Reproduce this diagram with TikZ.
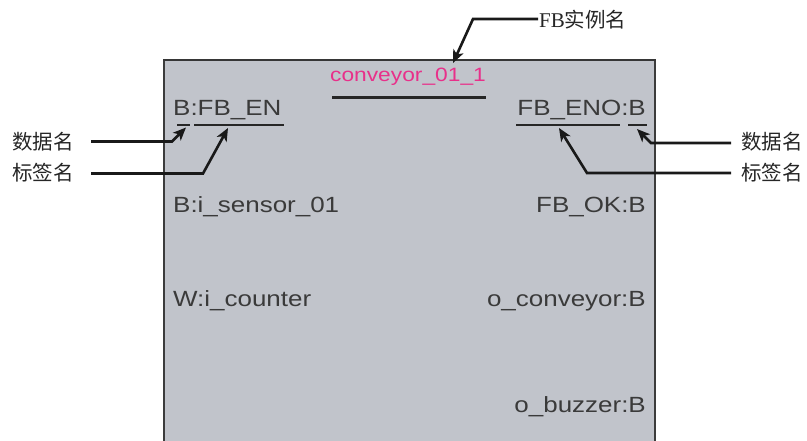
\documentclass[tikz,border=0pt]{standalone}
\usepackage{fontspec}
\usetikzlibrary{arrows.meta}
\newfontfamily\uisans[FakeStretch=1.18]{Liberation Sans}
\newfontfamily\cjk{Noto Sans CJK SC}
\newfontfamily\serifl{Liberation Serif}
\definecolor{boxfill}{HTML}{C1C4CB}
\definecolor{boxedge}{HTML}{3C3C3C}
\definecolor{txtgray}{HTML}{3A3A3A}
\definecolor{magentaname}{HTML}{E8308A}
\tikzset{
  fbtext/.style={inner sep=0pt, text=txtgray, font=\uisans\fontsize{22}{22}\selectfont},
  lbltext/.style={inner sep=0pt, text=black!85, font=\cjk\fontsize{20.5}{20.5}\selectfont},
  uline/.style={line width=2.2pt, black!85},
  callout/.style={line width=2.6pt, black!90, line join=miter,
    -{Stealth[length=13pt,width=11pt,inset=3.5pt]}},
}
\begin{document}
\begin{tikzpicture}[x=1pt,y=-1pt]
\useasboundingbox (0,0) rectangle (807,440);
% block body
\fill[boxfill] (164,60) rectangle (655,445);
\draw[boxedge, line width=1.4pt] (164,445) -- (164,60) (655,60) -- (655,445);
\draw[boxedge!90!black, line width=2.4pt] (163,60) -- (656,60);

% instance name
\node[fbtext, text=magentaname, font=\uisans\fontsize{19.3}{19.3}\selectfont, anchor=base] (inst) at (408,81.5) {conveyor\_01\_1};
\coordinate (instL) at (332,97.5);
\coordinate (instR) at (486,97.5);
\draw[uline] (instL) -- (instR);

% EN / ENO
\node[fbtext, anchor=base west] (en) at (173,115) {B:FB\_EN};
\node[fbtext, anchor=base east] (eno) at (646,115) {FB\_ENO:B};
\coordinate (enDa) at (177,125); \coordinate (enDb) at (190,125);
\coordinate (enLa) at (194,125); \coordinate (enLb) at (284,125);
\coordinate (enoLa) at (516,125); \coordinate (enoLb) at (620,125);
\coordinate (enoDa) at (628,125); \coordinate (enoDb) at (647,125);
\draw[uline] (enDa) -- (enDb) (enLa) -- (enLb) (enoLa) -- (enoLb) (enoDa) -- (enoDb);

% other pins
\node[fbtext, anchor=base west] (in1) at (173,212) {B:i\_sensor\_01};
\node[fbtext, anchor=base east] (out1) at (646,212) {FB\_OK:B};
\node[fbtext, anchor=base west] (in2) at (173,306.5) {W:i\_counter};
\node[fbtext, anchor=base east] (out2) at (646,306.5) {o\_conveyor:B};
\node[fbtext, anchor=base east] (out3) at (646,412) {o\_buzzer:B};

% callout labels
\node[lbltext, anchor=west] (fbinst) at (539,19.5) {{\serifl\fontsize{21}{21}\selectfont FB}实例名};
\node[lbltext, anchor=west] (ldata) at (12,142) {数据名};
\node[lbltext, anchor=west] (llabel) at (12,172.5) {标签名};
\node[lbltext, anchor=east] (rdata) at (803,142) {数据名};
\node[lbltext, anchor=east] (rlabel) at (803,172.5) {标签名};

% callout connectors
\coordinate (fbS) at (538,19); \coordinate (fbB) at (473,19); \coordinate (fbT) at (453,63);
\draw[callout] (fbS) -- (fbB) -- (fbT);

\coordinate (ldS) at (91,141.5); \coordinate (ldB) at (172,141.5); \coordinate (ldT) at (186,127.5);
\draw[callout] (ldS) -- (ldB) -- (ldT);

\coordinate (llS) at (91,173.5); \coordinate (llB) at (203,173.5); \coordinate (llT) at (228,128);
\draw[callout] (llS) -- (llB) -- (llT);

\coordinate (rdS) at (731,143); \coordinate (rdB) at (651,143); \coordinate (rdT) at (637,129);
\draw[callout] (rdS) -- (rdB) -- (rdT);

\coordinate (rlS) at (731,173); \coordinate (rlB) at (587,173); \coordinate (rlT) at (559,128);
\draw[callout] (rlS) -- (rlB) -- (rlT);
\end{tikzpicture}
\end{document}
